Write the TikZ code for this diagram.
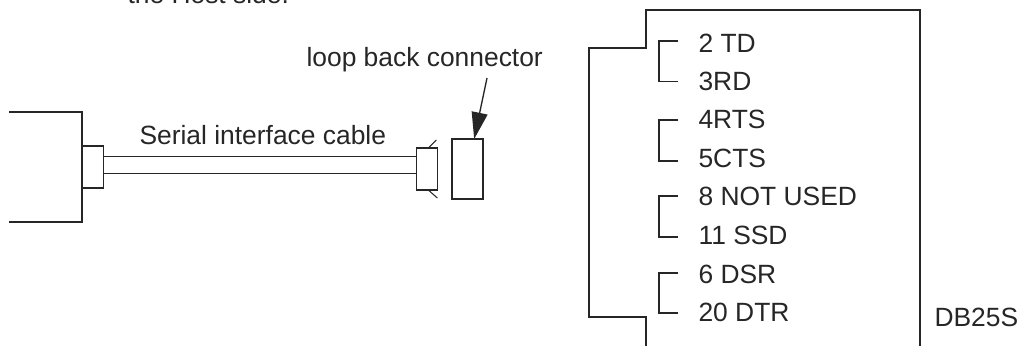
\documentclass[tikz,border=0pt]{standalone}
\usepackage{fontspec}
\setmainfont{Liberation Sans}
\usetikzlibrary{arrows.meta}

\definecolor{inkline}{HTML}{262626}

\begin{document}
\begin{tikzpicture}[x=.75pt,y=-.75pt,line width=.8pt,draw=inkline,text=inkline,
    >={Triangle[length=20pt,width=12pt]},
    caption/.style={anchor=base west,inner sep=0pt,font=\fontsize{19.8}{23}\selectfont},
    plugbox/.style={draw,rectangle,line width=1pt,inner sep=0pt,outer sep=0pt,minimum width=16pt,minimum height=31.5pt}]
  \useasboundingbox (0,0) rectangle (1022,346);

  % host side with its cable
  \draw (9,112) -- (82,112) -- (82,222) -- (9,222);
  \node[plugbox] (hostplug) at (92.5,167) {};
  \node[plugbox] (cableplug) at (427,169) {};
  \node[plugbox,minimum width=23.25pt,minimum height=45pt] (loopback) at (467.5,169) {};
  \draw[line width=1.1pt] ([yshift=8pt]hostplug.east) -- ([yshift=9.5pt]cableplug.west);
  \draw[line width=1.1pt] ([yshift=-5pt]hostplug.east) -- ([yshift=-3.5pt]cableplug.west);
  \draw ([xshift=1pt]cableplug.north) -- ++(8,-8);
  \draw ([xshift=1pt]cableplug.south) -- ++(9,8);

  \node[caption] (hostnote) at (127,3.5) {the Host side.};
  \node[caption] (looplabel) at (306,67) {loop back connector};
  \node[caption] (cablelabel) at (139,145) {Serial interface cable};
  \coordinate (looptail) at (487,78);
  \draw[->,line width=1pt] (looptail) -- ([xshift=5pt]loopback.north);

  % DB25S outline
  \draw (646,346) -- (646,317) -- (589,317) -- (589,48) -- (646,48) -- (646,10) -- (920,10) -- (920,346);
  \draw (678,41) -- (659,41) -- (659,81.5) -- (678,81.5);
  \draw (678,120) -- (659,120) -- (659,161) -- (678,161);
  \draw (678,196) -- (659,196) -- (659,237) -- (678,237);
  \draw (678,273) -- (659,273) -- (659,313) -- (678,313);

  \node[caption] (pintd) at (698,53) {2 TD};
  \node[caption] (pinrd) at (698,90.5) {3RD};
  \node[caption] (pinrts) at (698,129) {4RTS};
  \node[caption] (pincts) at (698,167) {5CTS};
  \node[caption] (pinnu) at (698,205) {8 NOT USED};
  \node[caption] (pinssd) at (698,244) {11 SSD};
  \node[caption] (pindsr) at (698,283) {6 DSR};
  \node[caption] (pindtr) at (698,321) {20 DTR};
  \node[caption] (dblabel) at (934,326) {DB25S};
\end{tikzpicture}
\end{document}
